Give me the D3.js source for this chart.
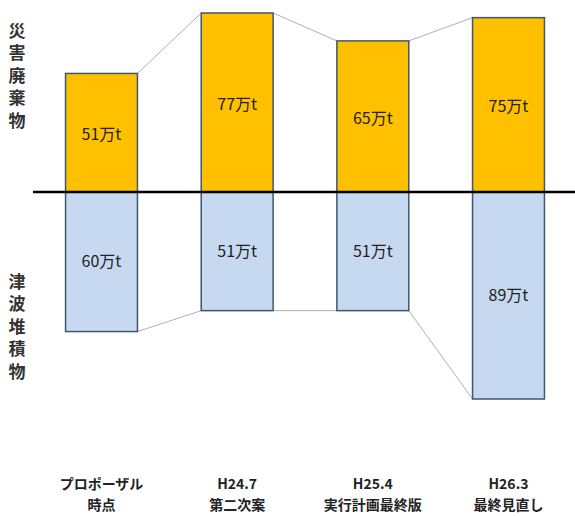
<!DOCTYPE html>
<html>
<head>
<meta charset="utf-8">
<script src="https://cdn.jsdelivr.net/npm/d3@7"></script>
<style>
  body { margin: 0; background: #fff; }
  text { font-family: "Noto Sans CJK JP", "Noto Sans", sans-serif; }
</style>
</head>
<body>
<div id="chart"></div>
<script>
// chart data
var categories = ["プロポーザル|時点", "H24.7|第二次案", "H25.4|実行計画最終版", "H26.3|最終見直し"];
var disasterWaste = [51, 77, 65, 75];   // 災害廃棄物 (万t)
var tsunamiDeposit = [60, 51, 51, 89];  // 津波堆積物 (万t)
var upperLabel = "災害廃棄物";
var lowerLabel = "津波堆積物";

var svgWidth = 575;
var svgHeight = 516;

var svg = d3.select("#chart")
  .append("svg")
  .attr("width", svgWidth)
  .attr("height", svgHeight);

// x scale - bars
var xScale = d3.scaleBand()
  .domain(categories)
  .range([33, 577])
  .paddingInner(0.47)
  .paddingOuter(0.24);

// y scale: positive up (waste), negative down (deposit)
var yScale = d3.scaleLinear()
  .domain([-89, 77])
  .range([399, 13]);

var bw = xScale.bandwidth();

// connecting lines between tops of bars
var upperPts = categories.map((c, i) => ({ c: c, v: disasterWaste[i] }));
var lowerPts = categories.map((c, i) => ({ c: c, v: -tsunamiDeposit[i] }));

function connectors(pts) {
  for (var i = 0; i < pts.length - 1; i++) {
    svg.append("line")
      .attr("x1", xScale(pts[i].c) + bw)
      .attr("y1", yScale(pts[i].v))
      .attr("x2", xScale(pts[i + 1].c))
      .attr("y2", yScale(pts[i + 1].v))
      .attr("stroke", "#b0b0b0")
      .attr("stroke-width", 1);
  }
}
connectors(upperPts);
connectors(lowerPts);

// upper bars
svg.selectAll(".up")
  .data(upperPts)
  .enter()
  .append("rect")
  .attr("x", d => xScale(d.c))
  .attr("y", d => yScale(d.v))
  .attr("width", bw)
  .attr("height", d => yScale(0) - yScale(d.v))
  .attr("fill", "#FFC000")
  .attr("stroke", "#3d5770")
  .attr("stroke-width", 1.5);

// lower bars
svg.selectAll(".down")
  .data(lowerPts)
  .enter()
  .append("rect")
  .attr("x", d => xScale(d.c))
  .attr("y", yScale(0))
  .attr("width", bw)
  .attr("height", d => yScale(d.v) - yScale(0))
  .attr("fill", "#C6D9F1")
  .attr("stroke", "#3d5770")
  .attr("stroke-width", 1.5);

// value labels
svg.selectAll(".uplab")
  .data(upperPts)
  .enter()
  .append("text")
  .attr("x", d => xScale(d.c) + bw / 2)
  .attr("y", d => (yScale(d.v) + yScale(0)) / 2 + 3)
  .attr("text-anchor", "middle")
  .attr("dominant-baseline", "middle")
  .style("font-size", "16px")
  .attr("fill", "#222")
  .text(d => d.v + "万t");

svg.selectAll(".downlab")
  .data(lowerPts)
  .enter()
  .append("text")
  .attr("x", d => xScale(d.c) + bw / 2)
  .attr("y", d => (yScale(d.v) + yScale(0)) / 2 + 1)
  .attr("text-anchor", "middle")
  .attr("dominant-baseline", "middle")
  .style("font-size", "16px")
  .attr("fill", "#222")
  .text(d => (-d.v) + "万t");

// baseline
svg.append("line")
  .attr("x1", 33)
  .attr("x2", 575)
  .attr("y1", yScale(0))
  .attr("y2", yScale(0))
  .attr("stroke", "#000")
  .attr("stroke-width", 2.5);

// vertical side labels (one text each, written top to bottom)
function sideLabel(str, y0) {
  svg.append("text")
    .attr("x", 17)
    .attr("y", y0)
    .style("writing-mode", "vertical-rl")
    .style("letter-spacing", "5.5px")
    .style("font-size", "17px")
    .style("font-weight", "bold")
    .attr("fill", "#333")
    .text(str);
}
sideLabel(upperLabel, 22);
sideLabel(lowerLabel, 273);

// category labels (two lines)
var xLabels = svg.selectAll(".xlab")
  .data(categories)
  .enter()
  .append("text")
  .attr("text-anchor", "middle")
  .style("font-size", "14px")
  .style("font-weight", "bold")
  .attr("fill", "#222");

xLabels.each(function(d) {
  var parts = d.split("|");
  var t = d3.select(this);
  parts.forEach(function(p, i) {
    t.append("tspan")
      .attr("x", xScale(d) + bw / 2)
      .attr("y", 489 + i * 21)
      .text(p);
  });
});
</script>
</body>
</html>
